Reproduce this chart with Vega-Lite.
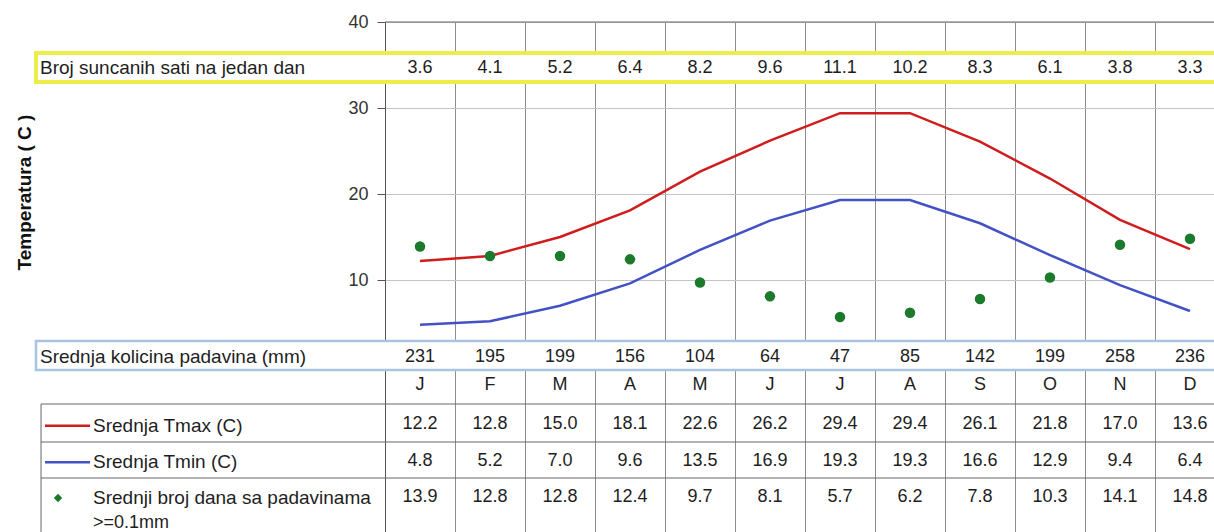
{
  "$schema": "https://vega.github.io/schema/vega-lite/v6.json",
  "width": 829,
  "height": 510,
  "padding": {"left": 385, "top": 22, "right": 0, "bottom": 0},
  "autosize": {"type": "none"},
  "background": "white",
  "config": {
    "view": {"stroke": null},
    "font": "Liberation Sans",
    "text": {"font": "Liberation Sans", "fontSize": 18, "color": "#1e1e1e", "baseline": "middle"},
    "axisX": {"grid": true, "gridColor": "#8c8c8c", "gridWidth": 1, "labels": false, "ticks": false, "domain": false, "title": null, "zindex": 0},
    "axisY": {"grid": true, "gridColor": "#c4c4c4", "zindex": 0}
  },
  "datasets": {
    "one": [{"k": 1}],
    "climate": [
      {"m": 1, "mon": "J", "tmax": 12.2, "tmin": 4.8, "days": 13.9, "sun": 3.6, "rain": 231},
      {"m": 2, "mon": "F", "tmax": 12.8, "tmin": 5.2, "days": 12.8, "sun": 4.1, "rain": 195},
      {"m": 3, "mon": "M", "tmax": 15.0, "tmin": 7.0, "days": 12.8, "sun": 5.2, "rain": 199},
      {"m": 4, "mon": "A", "tmax": 18.1, "tmin": 9.6, "days": 12.4, "sun": 6.4, "rain": 156},
      {"m": 5, "mon": "M", "tmax": 22.6, "tmin": 13.5, "days": 9.7, "sun": 8.2, "rain": 104},
      {"m": 6, "mon": "J", "tmax": 26.2, "tmin": 16.9, "days": 8.1, "sun": 9.6, "rain": 64},
      {"m": 7, "mon": "J", "tmax": 29.4, "tmin": 19.3, "days": 5.7, "sun": 11.1, "rain": 47},
      {"m": 8, "mon": "A", "tmax": 29.4, "tmin": 19.3, "days": 6.2, "sun": 10.2, "rain": 85},
      {"m": 9, "mon": "S", "tmax": 26.1, "tmin": 16.6, "days": 7.8, "sun": 8.3, "rain": 142},
      {"m": 10, "mon": "O", "tmax": 21.8, "tmin": 12.9, "days": 10.3, "sun": 6.1, "rain": 199},
      {"m": 11, "mon": "N", "tmax": 17.0, "tmin": 9.4, "days": 14.1, "sun": 3.8, "rain": 258},
      {"m": 12, "mon": "D", "tmax": 13.6, "tmin": 6.4, "days": 14.8, "sun": 3.3, "rain": 236}
    ]
  },
  "data": {"name": "climate"},
  "layer": [
    {
      "mark": {"type": "rule", "opacity": 0},
      "encoding": {
        "x": {
          "field": "m", "type": "quantitative",
          "scale": {"domain": [0.5, 12.343], "nice": false, "zero": false},
          "axis": {
            "values": [0.5, 1.5, 2.5, 3.5, 4.5, 5.5, 6.5, 7.5, 8.5, 9.5, 10.5, 11.5],
            "grid": true, "gridColor": "#8c8c8c", "gridWidth": 1,
            "labels": false, "ticks": false, "domain": false, "title": null, "zindex": 0
          }
        },
        "y": {
          "field": "tmax", "type": "quantitative",
          "scale": {"domain": [-19.302, 40], "nice": false, "zero": false},
          "axis": {
            "values": [10, 20, 30, 40],
            "title": "Temperatura ( C )",
            "titleFont": "Liberation Sans", "titleFontWeight": "bold", "titleFontSize": 19, "titleColor": "#111",
            "titleX": -361, "titleY": 170, "titleAngle": -90, "titleAlign": "center", "titleBaseline": "middle",
            "labelFont": "Liberation Sans", "labelFontSize": 18, "labelColor": "#333", "labelPadding": 9,
            "tickSize": 8, "tickColor": "#555", "domain": true, "domainColor": "#555",
            "grid": true, "gridColor": "#c4c4c4",
            "zindex": 0
          }
        }
      }
    },
    {
      "data": {"name": "one"},
      "mark": {"type": "rule", "color": "#666666", "strokeWidth": 1},
      "encoding": {"x": {"datum": 0.5}, "x2": {"datum": 12.45}, "y": {"datum": 40}}
    },
    {
      "data": {"name": "one"},
      "mark": {"type": "rect", "fill": "white", "stroke": "#ecec4a", "strokeWidth": 4},
      "encoding": {
        "x": {"datum": -4.486}, "x2": {"datum": 12.45},
        "y": {"datum": 36.395}, "y2": {"datum": 33.023}
      }
    },
    {
      "data": {"name": "one"},
      "mark": {"type": "rect", "fill": "white", "stroke": "#a9c3e3", "strokeWidth": 2.5},
      "encoding": {
        "x": {"datum": -4.486}, "x2": {"datum": 12.45},
        "y": {"datum": 2.907}, "y2": {"datum": -0.465}
      }
    },
    {
      "data": {"name": "one"},
      "mark": {"type": "rule", "color": "#666666", "strokeWidth": 1},
      "encoding": {"x": {"datum": -4.414}, "x2": {"datum": 12.45}, "y": {"datum": -4.419}}
    },
    {
      "data": {"name": "one"},
      "mark": {"type": "rule", "color": "#666666", "strokeWidth": 1},
      "encoding": {"x": {"datum": -4.414}, "x2": {"datum": 12.45}, "y": {"datum": -8.837}}
    },
    {
      "data": {"name": "one"},
      "mark": {"type": "rule", "color": "#666666", "strokeWidth": 1},
      "encoding": {"x": {"datum": -4.414}, "x2": {"datum": 12.45}, "y": {"datum": -13.023}}
    },
    {
      "data": {"name": "one"},
      "mark": {"type": "rule", "color": "#666666", "strokeWidth": 1},
      "encoding": {"x": {"datum": -4.414}, "y": {"datum": -4.419}, "y2": {"datum": -19.302}}
    },
    {
      "mark": {"type": "line", "color": "#d01c1c", "strokeWidth": 2.5, "interpolate": "linear"},
      "encoding": {"x": {"field": "m", "type": "quantitative"}, "y": {"field": "tmax", "type": "quantitative"}}
    },
    {
      "mark": {"type": "line", "color": "#4252c4", "strokeWidth": 2.5, "interpolate": "linear"},
      "encoding": {"x": {"field": "m", "type": "quantitative"}, "y": {"field": "tmin", "type": "quantitative"}}
    },
    {
      "mark": {"type": "point", "shape": "circle", "filled": true, "color": "#1b7a2c", "size": 110, "opacity": 1},
      "encoding": {"x": {"field": "m", "type": "quantitative"}, "y": {"field": "days", "type": "quantitative"}}
    },
    {
      "mark": {"type": "text", "align": "center"},
      "encoding": {"x": {"field": "m", "type": "quantitative"}, "y": {"datum": 34.651}, "text": {"field": "sun", "type": "quantitative", "format": ".1f"}}
    },
    {
      "mark": {"type": "text", "align": "center"},
      "encoding": {"x": {"field": "m", "type": "quantitative"}, "y": {"datum": 1.047}, "text": {"field": "rain", "type": "quantitative", "format": "d"}}
    },
    {
      "mark": {"type": "text", "align": "center"},
      "encoding": {"x": {"field": "m", "type": "quantitative"}, "y": {"datum": -2.209}, "text": {"field": "mon", "type": "nominal"}}
    },
    {
      "mark": {"type": "text", "align": "center"},
      "encoding": {"x": {"field": "m", "type": "quantitative"}, "y": {"datum": -6.8}, "text": {"field": "tmax", "type": "quantitative", "format": ".1f"}}
    },
    {
      "mark": {"type": "text", "align": "center"},
      "encoding": {"x": {"field": "m", "type": "quantitative"}, "y": {"datum": -11.05}, "text": {"field": "tmin", "type": "quantitative", "format": ".1f"}}
    },
    {
      "mark": {"type": "text", "align": "center"},
      "encoding": {"x": {"field": "m", "type": "quantitative"}, "y": {"datum": -15.23}, "text": {"field": "days", "type": "quantitative", "format": ".1f"}}
    },
    {
      "data": {"name": "one"},
      "mark": {"type": "text", "align": "left", "fontSize": 19, "text": "Broj suncanih sati na jedan dan"},
      "encoding": {"x": {"datum": -4.429}, "y": {"datum": 34.651}}
    },
    {
      "data": {"name": "one"},
      "mark": {"type": "text", "align": "left", "fontSize": 19, "text": "Srednja kolicina padavina (mm)"},
      "encoding": {"x": {"datum": -4.429}, "y": {"datum": 1.047}}
    },
    {
      "data": {"name": "one"},
      "mark": {"type": "text", "align": "left", "fontSize": 19, "text": "Srednja Tmax (C)"},
      "encoding": {"x": {"datum": -3.671}, "y": {"datum": -6.95}}
    },
    {
      "data": {"name": "one"},
      "mark": {"type": "text", "align": "left", "fontSize": 19, "text": "Srednja Tmin (C)"},
      "encoding": {"x": {"datum": -3.671}, "y": {"datum": -11.2}}
    },
    {
      "data": {"name": "one"},
      "mark": {"type": "text", "align": "left", "fontSize": 19, "text": "Srednji broj dana sa padavinama"},
      "encoding": {"x": {"datum": -3.671}, "y": {"datum": -15.35}}
    },
    {
      "data": {"name": "one"},
      "mark": {"type": "text", "align": "left", "fontSize": 18, "text": ">=0.1mm"},
      "encoding": {"x": {"datum": -3.671}, "y": {"datum": -18.3}}
    },
    {
      "data": {"name": "one"},
      "mark": {"type": "rule", "color": "#d01c1c", "strokeWidth": 2.5},
      "encoding": {"x": {"datum": -4.357}, "x2": {"datum": -3.714}, "y": {"datum": -6.95}}
    },
    {
      "data": {"name": "one"},
      "mark": {"type": "rule", "color": "#4252c4", "strokeWidth": 2.5},
      "encoding": {"x": {"datum": -4.357}, "x2": {"datum": -3.714}, "y": {"datum": -11.2}}
    },
    {
      "data": {"name": "one"},
      "mark": {"type": "point", "shape": "diamond", "filled": true, "color": "#1b7a2c", "size": 70, "opacity": 1},
      "encoding": {"x": {"datum": -4.171}, "y": {"datum": -15.35}}
    }
  ]
}
